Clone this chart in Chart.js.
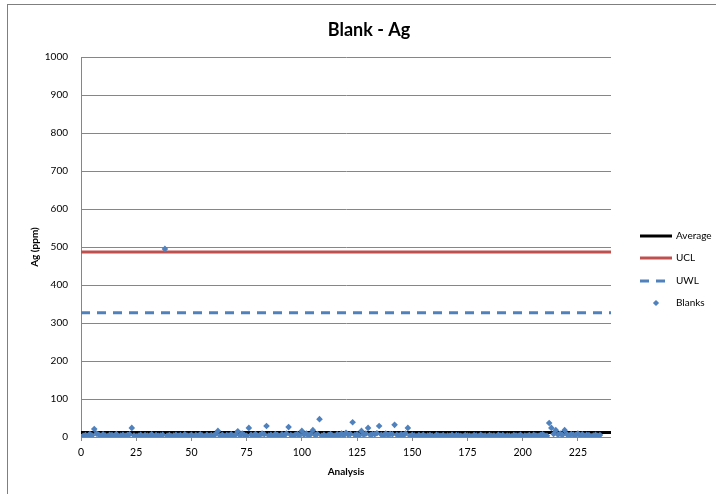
<!DOCTYPE html>
<html>
<head>
<meta charset="utf-8">
<script src="https://cdn.jsdelivr.net/npm/chart.js@4"></script>
<style>
  html, body { margin: 0; padding: 0; background: #fff; }
  #wrap { position: relative; width: 716px; height: 494px; }
</style>
</head>
<body>
<div id="wrap"><canvas id="chartBlankAg" width="716" height="494"></canvas></div>
<script>
// ── Blank - Ag control chart ──────────────────────────

const chartTitle = "Blank - Ag";
const seriesNames = ["Average", "UCL", "UWL", "Blanks"];

const xTicks = [0, 25, 50, 75, 100, 125, 150, 175, 200, 225];
const yTicks = [0, 100, 200, 300, 400, 500, 600, 700, 800, 900, 1000];

const averageLevel = 12;
const uclLevel = 487;
const uwlLevel = 327;

// blank results, analysis 1..235
const blanks = [
  3, 5, 2, 8, 4, 21, 9, 6, 3, 7, 4, 2, 6, 5, 3, 8, 2, 4, 6, 3, 5, 7, 24, 4, 2,
  3, 6, 2, 5, 4, 3, 7, 2, 5, 3, 4, 6, 495, 3, 5, 2, 4, 6, 3, 5, 2, 7, 4, 3, 6,
  2, 5, 3, 7, 4, 2, 6, 3, 5, 4, 8, 16, 3, 6, 2, 5, 4, 7, 3, 6, 15, 4, 9, 5, 3,
  24, 6, 4, 8, 3, 5, 9, 7, 29, 4, 6, 3, 8, 5, 2, 7, 4, 9, 26, 5, 3, 6, 8, 4, 16,
  6, 9, 4, 7, 18, 5, 8, 47, 3, 6, 2, 5, 8, 4, 3, 7, 5, 9, 4, 11, 6, 8, 39, 5, 7,
  4, 16, 6, 9, 24, 5, 8, 7, 10, 29, 6, 4, 9, 5, 8, 7, 32, 6, 4, 7, 5, 9, 24, 3, 6,
  4, 2, 5, 3, 6, 2, 4, 5, 3, 2, 6, 4, 3, 5, 2, 4, 3, 6, 2, 5, 4, 3, 2, 5, 4,
  3, 2, 5, 4, 2, 6, 3, 4, 2, 5, 3, 4, 2, 6, 3, 5, 2, 4, 3, 2, 5, 4, 3, 6, 2,
  4, 3, 5, 2, 6, 4, 3, 5, 7, 4, 3, 37, 24, 8, 18, 6, 9, 5, 18, 7, 4, 8, 6, 5, 9,
  4, 7, 3, 6, 5, 2, 4, 6, 3, 5,
];

const xMin = 0, xMax = 240, yMin = 0, yMax = 1000;

const BLUE = "#4F81BD";
const RED = "#C0504D";
const GRID = "#868686";
const FONT = "Lato, 'Open Sans', sans-serif";

const hline = (v) => [{ x: xMin, y: v }, { x: xMax, y: v }];

// frame, title and legend drawn like the spreadsheet chart
const decorations = {
  id: "decorations",
  beforeDraw(chart) {
    const ctx = chart.ctx;
    ctx.save();
    ctx.strokeStyle = "#7f7f7f";
    ctx.lineWidth = 1;
    ctx.strokeRect(7.5, 4.5, 730, 510);
    ctx.restore();
  },
  afterDraw(chart) {
    const ctx = chart.ctx;
    ctx.save();
    ctx.fillStyle = "#000";
    ctx.font = "bold 18px " + FONT;
    ctx.textAlign = "center";
    ctx.textBaseline = "middle";
    ctx.fillText(chartTitle, 369, 30);

    const rows = [236, 258, 281, 303];
    ctx.font = "10px " + FONT;
    ctx.textAlign = "left";
    chart.data.datasets.forEach((ds, i) => {
      const y = rows[i];
      ctx.save();
      if (ds.showLine) {
        ctx.strokeStyle = ds.borderColor;
        ctx.lineWidth = ds.borderWidth;
        ctx.setLineDash(ds.borderDash || []);
        ctx.beginPath();
        ctx.moveTo(640, y);
        ctx.lineTo(672, y);
        ctx.stroke();
      } else {
        ctx.fillStyle = ds.backgroundColor;
        ctx.translate(656, y);
        ctx.rotate(Math.PI / 4);
        ctx.fillRect(-2.2, -2.2, 4.4, 4.4);
      }
      ctx.restore();
      ctx.fillStyle = "#000";
      ctx.fillText(ds.label, 676, y);
    });
    ctx.restore();
  },
};

new Chart(document.getElementById("chartBlankAg"), {
  type: "scatter",
  data: {
    datasets: [
      {
        label: seriesNames[0],
        data: hline(averageLevel),
        showLine: true,
        borderColor: "#000",
        borderWidth: 3,
        pointRadius: 0,
        order: 1,
      },
      {
        label: seriesNames[1],
        data: hline(uclLevel),
        showLine: true,
        borderColor: RED,
        borderWidth: 3,
        pointRadius: 0,
        order: 1,
      },
      {
        label: seriesNames[2],
        data: hline(uwlLevel),
        showLine: true,
        borderColor: BLUE,
        borderWidth: 3,
        borderDash: [9, 7],
        pointRadius: 0,
        order: 1,
      },
      {
        label: seriesNames[3],
        data: blanks.map((v, i) => ({ x: i + 1, y: v })),
        showLine: false,
        backgroundColor: BLUE,
        borderColor: BLUE,
        borderWidth: 0,
        pointStyle: "rectRot",
        pointRadius: 3.3,
        order: 0,
      },
    ],
  },
  options: {
    responsive: false,
    animation: false,
    layout: { padding: { top: 57, right: 105, left: 0, bottom: 0 } },
    plugins: {
      legend: { display: false },
      title: { display: false },
      tooltip: { enabled: false },
    },
    scales: {
      x: {
        type: "linear",
        min: xMin,
        max: xMax,
        afterFit: (s) => { s.height = 57; },
        afterBuildTicks: (s) => { s.ticks = xTicks.map((v) => ({ value: v })); },
        grid: { display: true, drawOnChartArea: false, color: GRID, tickLength: 4 },
        border: { display: false },
        ticks: { color: "#000", font: { family: FONT, size: 10.5 }, padding: 5, maxRotation: 0 },
        title: {
          display: true,
          text: "Analysis",
          color: "#000",
          font: { family: FONT, size: 10, weight: "bold" },
          padding: { top: 2, bottom: 16 },
        },
      },
      y: {
        min: yMin,
        max: yMax,
        afterFit: (s) => { s.width = 81; },
        afterBuildTicks: (s) => { s.ticks = yTicks.map((v) => ({ value: v })); },
        grid: { color: GRID, lineWidth: 1, tickLength: 0, drawTicks: false },
        border: { display: true, color: GRID, width: 1 },
        ticks: {
          color: "#000",
          font: { family: FONT, size: 10 },
          padding: 13,
          callback: (v) => String(v),
        },
        title: {
          display: true,
          text: "Ag (ppm)",
          color: "#000",
          font: { family: FONT, size: 10, weight: "bold" },
          padding: { top: 29, bottom: 0 },
        },
      },
    },
  },
  plugins: [decorations],
});
</script>
</body>
</html>
